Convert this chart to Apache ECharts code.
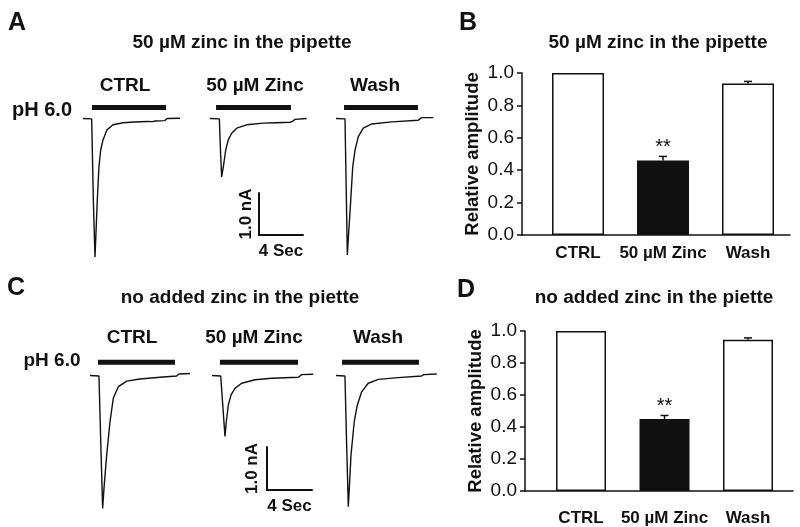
<!DOCTYPE html>
<html>
<head>
<meta charset="utf-8">
<script src="https://cdn.jsdelivr.net/npm/echarts@6/dist/echarts.min.js"></script>
<style>html,body{margin:0;padding:0;background:#fff;}#c{width:800px;height:527px;}</style>
</head>
<body>
<div id="c"></div>
<script>
// ---------- data (time in s, current in nA) ----------
const ctrlA = [[0,0],[0.79,-0.01],[0.94,-1.94],[1.09,-3.30],[1.18,-2.73],[1.30,-1.94],[1.45,-1.15],[1.61,-0.75],[1.82,-0.51],[2.18,-0.27],[2.73,-0.15],[3.64,-0.10],[4.7,-0.085],[5.82,-0.07],[6.3,-0.075],[6.6,-0.06],[7.45,-0.05],[7.64,0],[8.82,0.005]];
const zincA = [[0,0],[0.85,-0.01],[0.95,-0.75],[1.06,-1.39],[1.21,-1.15],[1.43,-0.75],[1.66,-0.51],[1.97,-0.35],[2.43,-0.23],[3.34,-0.15],[4.82,-0.11],[6.0,-0.10],[7.27,-0.09],[7.5,-0.07],[7.73,-0.02],[8.79,0]];
const washA = [[0,0],[0.82,-0.01],[0.93,-1.70],[1.03,-3.25],[1.15,-2.73],[1.34,-1.94],[1.52,-1.15],[1.73,-0.75],[2.03,-0.43],[2.48,-0.23],[3.25,-0.13],[5.06,-0.08],[7.48,-0.04],[7.79,0.02],[8.85,0.02]];
const ctrlC = [[0,0],[0.80,-0.01],[0.98,-1.73],[1.13,-3.09],[1.25,-2.62],[1.49,-1.85],[1.79,-1.07],[2.08,-0.53],[2.53,-0.26],[3.28,-0.13],[4.46,-0.08],[6.25,-0.04],[7.74,-0.01],[7.95,0.035],[8.93,0.045]];
const zincC = [[0,0],[0.78,-0.01],[0.96,-0.69],[1.16,-1.42],[1.28,-1.07],[1.46,-0.69],[1.70,-0.45],[2.05,-0.30],[2.65,-0.18],[3.84,-0.10],[5.33,-0.065],[7.71,-0.04],[8.01,0.02],[9.04,0.03]];
const washC = [[0,0],[0.80,-0.01],[0.94,-1.50],[1.10,-3.05],[1.19,-2.62],[1.34,-1.85],[1.63,-1.07],[1.90,-0.69],[2.29,-0.38],[2.88,-0.18],[3.78,-0.09],[5.56,-0.05],[7.65,-0.01],[7.86,0.02],[9.0,0.035]];
// pH 6.0 application windows [start, end] (s) and bar level (nA)
const appA = [[0.82,7.55],[0.55,7.36],[0.73,7.45]];
const appC = [[0.71,7.59],[0.71,7.68],[0.54,7.41]];
const appLevelA = 0.26, appLevelC = 0.31;
// scale bar
const scaleTime = 4, scaleCurrent = 1.0;
// bar charts
const cats = ['CTRL', '50 µM Zinc', 'Wash'];
const meanB = [1.0, 0.46, 0.935];
const semB = [0, 0.025, 0.013];
const meanD = [1.0, 0.45, 0.945];
const semD = [0, 0.022, 0.012];
const sigIndex = 1;

// ---------- layout ----------
const FF = '"Liberation Sans", Arial, sans-serif';
const INK = '#111';
const traceGrids = [
  {left:83, top:97.5, width:101.2, height:168},
  {left:210, top:97.5, width:101.2, height:168},
  {left:336, top:97.5, width:101.2, height:168},
  {left:90, top:354, width:103, height:172},
  {left:212, top:354, width:103, height:172},
  {left:336, top:354, width:103, height:172}
];
const grids = traceGrids.concat([
  {left:259, top:193, width:44, height:42},
  {left:267, top:447, width:45, height:43},
  {left:522, top:73, width:268, height:162},
  {left:525, top:331, width:268, height:160}
]);
const xAxes = [], yAxes = [], series = [];
const traces = [ctrlA, zincA, washA, ctrlC, zincC, washC];
traces.forEach((tr, i) => {
  xAxes.push({gridIndex:i, type:'value', min:0, max:9.2, show:false});
  yAxes.push({gridIndex:i, type:'value', min:-3.5, max:0.5, show:false});
  series.push({type:'line', xAxisIndex:i, yAxisIndex:i, data:tr, showSymbol:false, symbol:'none',
    lineStyle:{color:INK, width:1.4}, silent:true});
  const app = i < 3 ? appA[i] : appC[i-3];
  const lev = i < 3 ? appLevelA : appLevelC;
  series.push({type:'line', xAxisIndex:i, yAxisIndex:i, data:[[app[0],lev],[app[1],lev]], showSymbol:false, symbol:'none',
    lineStyle:{color:INK, width:5, cap:'butt'}, silent:true});
});
// scale bars (axis lines form the L)
[[6, 8, 4], [7, 8, 6]].forEach(([g, xg, yg]) => {
  xAxes.push({gridIndex:g, type:'value', min:0, max:scaleTime, position:'bottom',
    axisLine:{show:true, onZero:false, lineStyle:{color:INK, width:2}}, axisTick:{show:false}, axisLabel:{show:false}, splitLine:{show:false},
    name: scaleTime + ' Sec', nameLocation:'middle', nameGap:xg,
    nameTextStyle:{fontFamily:FF, fontWeight:'bold', fontSize:17, color:INK}});
  yAxes.push({gridIndex:g, type:'value', min:0, max:scaleCurrent, position:'left',
    axisLine:{show:true, onZero:false, lineStyle:{color:INK, width:2}}, axisTick:{show:false}, axisLabel:{show:false}, splitLine:{show:false},
    name: scaleCurrent.toFixed(1) + ' nA', nameLocation:'middle', nameGap:yg, nameRotate:90,
    nameTextStyle:{fontFamily:FF, fontWeight:'bold', fontSize:17, color:INK}});
});
// bar charts
const barSpecs = [
  {g:8, min:-0.659, max:2.494, mean:meanB, sem:semB, bw:52, lm:10},
  {g:9, min:-0.671, max:2.539, mean:meanD, sem:semD, bw:50, lm:19}
];
barSpecs.forEach(s => {
  xAxes.push({gridIndex:s.g, type:'value', min:s.min, max:s.max, position:'bottom',
    axisLine:{show:true, onZero:false, lineStyle:{color:INK, width:1.5}}, axisTick:{show:false}, splitLine:{show:false},
    axisLabel:{customValues:[0,1,2], formatter:v => cats[Math.round(v)] || '', fontFamily:FF, fontWeight:'bold', fontSize:17, color:INK, margin:s.lm}});
  yAxes.push({gridIndex:s.g, type:'value', min:0, max:1, interval:0.2, position:'left',
    axisLine:{show:true, onZero:false, lineStyle:{color:INK, width:1.5}},
    axisTick:{show:true, length:5, lineStyle:{color:INK, width:1.5}}, splitLine:{show:false},
    axisLabel:{formatter:v => v.toFixed(1), fontFamily:FF, fontSize:19, color:INK, margin:8},
    name:'Relative amplitude', nameLocation:'middle', nameGap:40, nameRotate:90,
    nameTextStyle:{fontFamily:FF, fontWeight:'bold', fontSize:18.5, color:INK}});
  series.push({type:'bar', xAxisIndex:s.g, yAxisIndex:s.g, barWidth:s.bw, silent:true,
    data: s.mean.map((m, i) => ({
      value:[i, m],
      itemStyle:{color: i === sigIndex ? INK : '#fff', borderColor:INK, borderWidth:1.5},
      label: i === sigIndex ? {show:true, position:'top', distance:3, formatter:'**', fontFamily:FF, fontSize:20, color:INK} : {show:false}
    }))});
  series.push({type:'custom', xAxisIndex:s.g, yAxisIndex:s.g, z:5, silent:true,
    data: s.mean.map((m, i) => [i, m, s.sem[i]]),
    encode:{x:0, y:1},
    renderItem:(params, api) => {
      const x = api.value(0), m = api.value(1), e = api.value(2);
      if (!e) return null;
      const p0 = api.coord([x, m]), p1 = api.coord([x, m + e]);
      const st = {stroke:INK, lineWidth:1.5};
      return {type:'group', children:[
        {type:'line', shape:{x1:p0[0], y1:p0[1], x2:p1[0], y2:p1[1]}, style:st},
        {type:'line', shape:{x1:p1[0]-4, y1:p1[1], x2:p1[0]+4, y2:p1[1]}, style:st}
      ]};
    }});
});

function txt(x, y, text, size, weight) {
  return {type:'text', x:x, y:y, silent:true,
    style:{text:text, fontFamily:FF, fontSize:size, fontWeight:weight || 'bold', fill:INK,
      textAlign:'center', textVerticalAlign:'middle', align:'center', verticalAlign:'middle'}};
}
const graphics = [
  txt(17, 23, 'A', 25), txt(468, 23, 'B', 25), txt(16, 288, 'C', 25), txt(466, 290, 'D', 25),
  txt(242, 43, '50 µM zinc in the pipette', 19), txt(658, 43, '50 µM zinc in the pipette', 19),
  txt(240, 298, 'no added zinc in the piette', 19), txt(654, 298, 'no added zinc in the piette', 19),
  txt(125, 86, 'CTRL', 19), txt(255, 86, '50 µM Zinc', 19), txt(375, 86, 'Wash', 19),
  txt(132, 338, 'CTRL', 19), txt(254, 338, '50 µM Zinc', 19), txt(378, 338, 'Wash', 19),
  txt(42, 110, 'pH 6.0', 20), txt(52, 361, 'pH 6.0', 19)
];

const chart = echarts.init(document.getElementById('c'), null, {renderer:'canvas'});
chart.setOption({
  animation:false,
  backgroundColor:'#fff',
  grid: grids,
  xAxis: xAxes,
  yAxis: yAxes,
  series: series,
  graphic: graphics
});
</script>
</body>
</html>
